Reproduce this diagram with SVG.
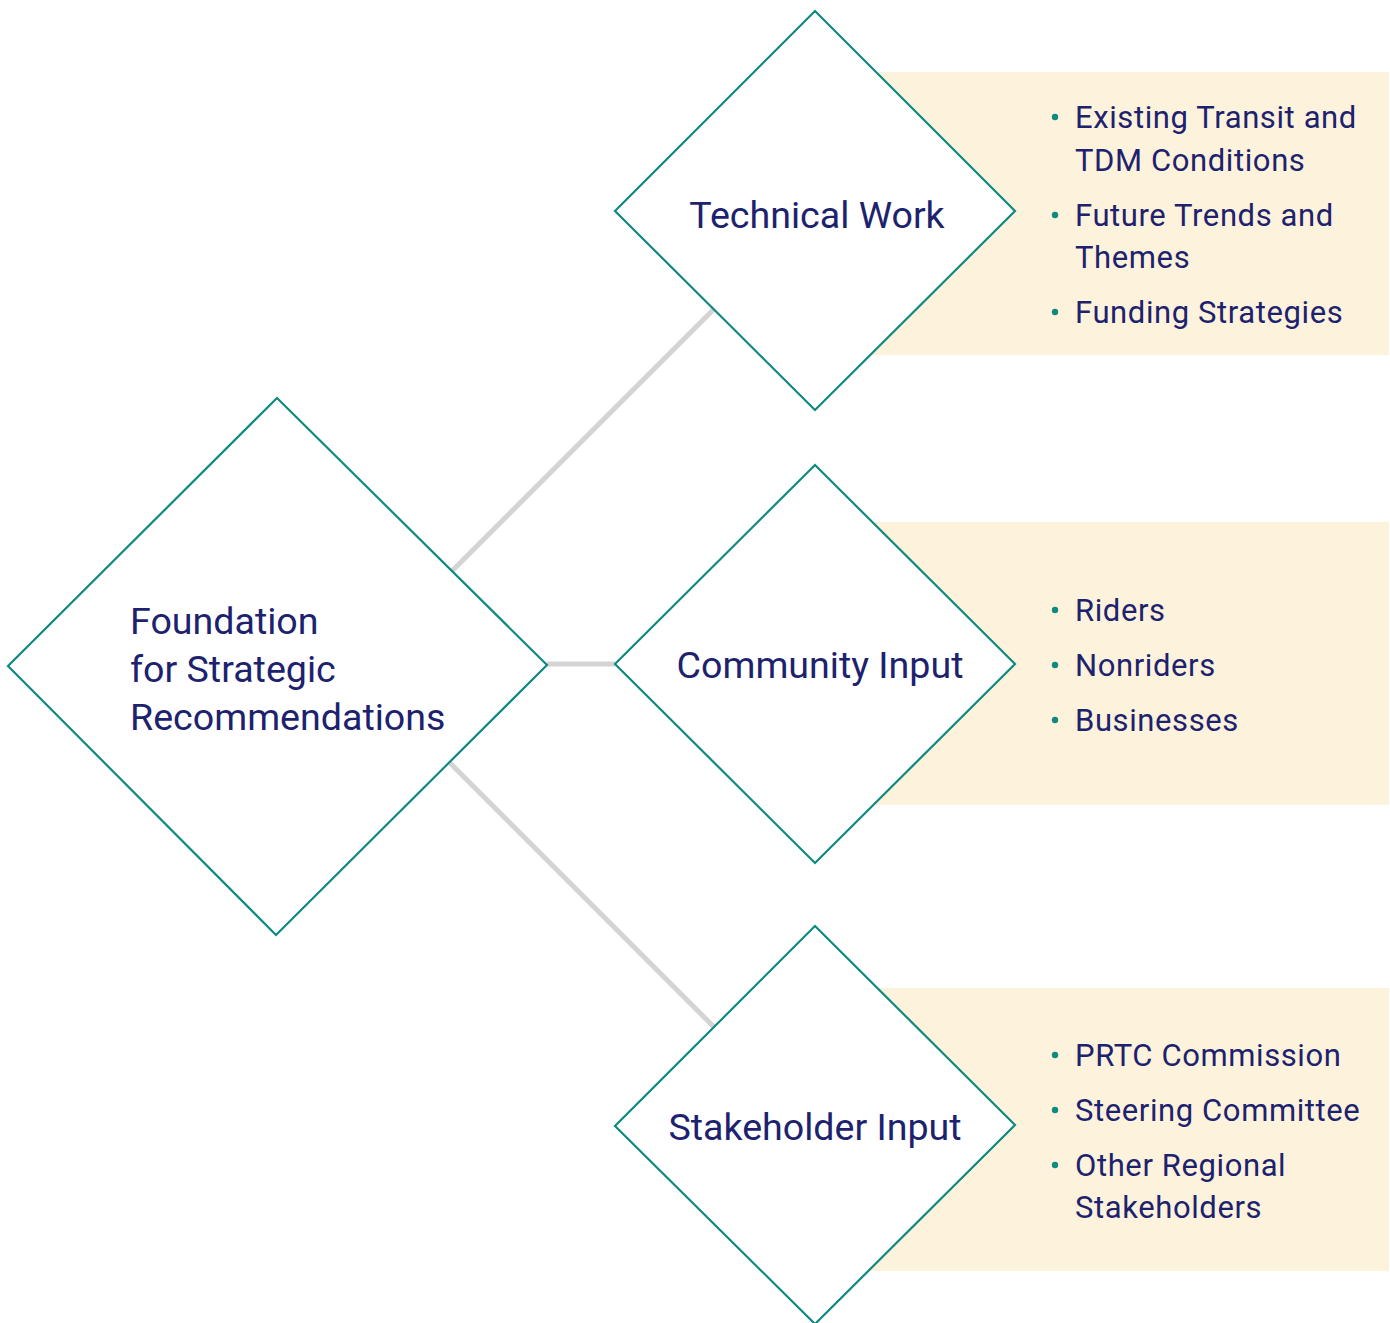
<svg xmlns="http://www.w3.org/2000/svg" width="1390" height="1323" viewBox="0 0 1390 1323">
<style>
.bg{fill:#fdf2dc}
.dia{fill:#ffffff;stroke:#108a80;stroke-width:2.2}
.con{stroke:#d4d4d4;stroke-width:5;fill:none}
.title{font-family:Roboto,"Liberation Sans",sans-serif;font-size:37.6px;fill:#1d226e}
.item{font-family:Roboto,"Liberation Sans",sans-serif;font-size:31px;letter-spacing:0.6px;fill:#1d226e}
.dot{fill:#108a80}
</style>
<rect width="1390" height="1323" fill="#ffffff"/>
<rect class="bg" x="815" y="72" width="574" height="283"/>
<rect class="bg" x="815" y="522" width="574" height="283"/>
<rect class="bg" x="815" y="988" width="574" height="283"/>
<g id="connectors">
<line class="con" x1="451" y1="572" x2="714" y2="309"/>
<line class="con" x1="547" y1="664" x2="615" y2="664"/>
<line class="con" x1="450" y1="763" x2="714" y2="1027"/>
</g>
<g id="foundation">
<polygon class="dia" points="277,398 547,665 276,935 8,666"/>
<text class="title" x="130" y="634">Foundation</text>
<text class="title" x="130" y="682">for Strategic</text>
<text class="title" x="130" y="730">Recommendations</text>
</g>
<g id="technical">
<polygon class="dia" points="815,11 1015,211 815,410 615,211"/>
<text class="title" x="817" y="228" text-anchor="middle">Technical Work</text>
</g>
<g id="community">
<polygon class="dia" points="815,465 1015,664 815,863 615,664"/>
<text class="title" x="820" y="678" text-anchor="middle">Community Input</text>
</g>
<g id="stakeholder">
<polygon class="dia" points="815,926 1015,1125 815,1324 615,1126"/>
<text class="title" x="815" y="1140" text-anchor="middle">Stakeholder Input</text>
</g>
<g id="technical-list">
<circle class="dot" cx="1055" cy="117" r="3.2"/>
<text class="item" x="1075" y="128">Existing Transit and</text>
<text class="item" x="1075" y="171">TDM Conditions</text>
<circle class="dot" cx="1055" cy="215" r="3.2"/>
<text class="item" x="1075" y="226">Future Trends and</text>
<text class="item" x="1075" y="268">Themes</text>
<circle class="dot" cx="1055" cy="312" r="3.2"/>
<text class="item" x="1075" y="323">Funding Strategies</text>
</g>
<g id="community-list">
<circle class="dot" cx="1055" cy="610" r="3.2"/>
<text class="item" x="1075" y="621">Riders</text>
<circle class="dot" cx="1055" cy="665" r="3.2"/>
<text class="item" x="1075" y="676">Nonriders</text>
<circle class="dot" cx="1055" cy="720" r="3.2"/>
<text class="item" x="1075" y="731">Businesses</text>
</g>
<g id="stakeholder-list">
<circle class="dot" cx="1055" cy="1055" r="3.2"/>
<text class="item" x="1075" y="1066">PRTC Commission</text>
<circle class="dot" cx="1055" cy="1110" r="3.2"/>
<text class="item" x="1075" y="1121">Steering Committee</text>
<circle class="dot" cx="1055" cy="1165" r="3.2"/>
<text class="item" x="1075" y="1176">Other Regional</text>
<text class="item" x="1075" y="1218">Stakeholders</text>
</g>
</svg>
